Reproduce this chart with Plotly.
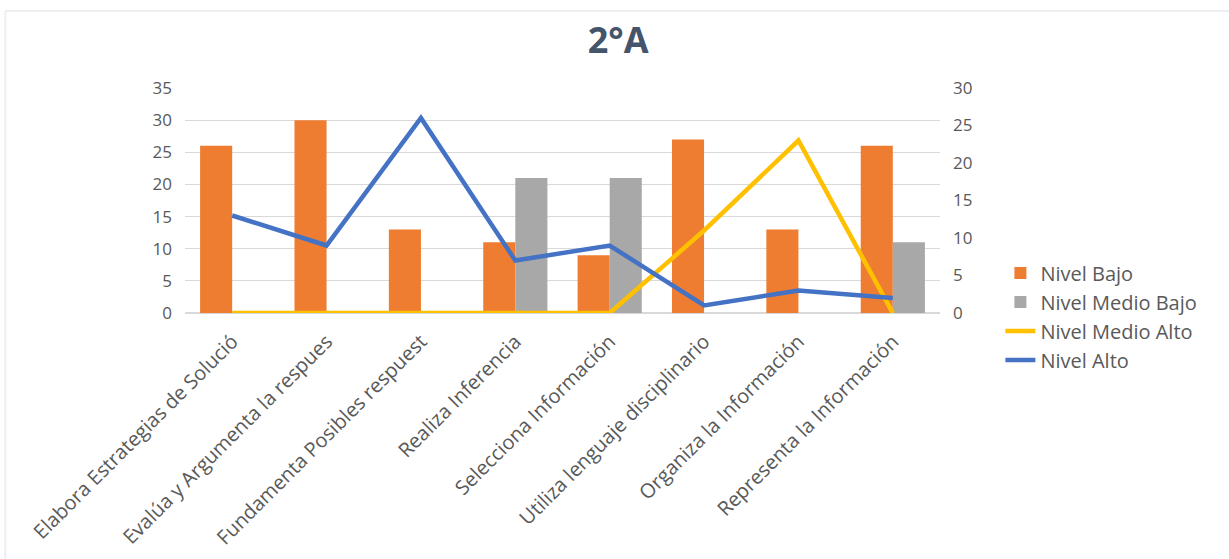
import plotly.graph_objects as go

categories = [
    "Elabora Estrategias de Solució",
    "Evalúa y Argumenta la respues",
    "Fundamenta Posibles respuest",
    "Realiza Inferencia",
    "Selecciona Información",
    "Utiliza lenguaje disciplinario",
    "Organiza la Información",
    "Representa la Información",
]
nivel_bajo = [26, 30, 13, 11, 9, 27, 13, 26]
nivel_medio_bajo = [0, 0, 0, 21, 21, 0, 0, 11]
nivel_medio_alto = [0, 0, 0, 0, 0, 11, 23, 0]
nivel_alto = [13, 9, 26, 7, 9, 1, 3, 2]

font_family = "Open Sans, Liberation Sans, sans-serif"
tick_color = "#595959"

fig = go.Figure()
fig.add_trace(go.Bar(x=categories, y=nivel_bajo, name="Nivel Bajo",
                     marker=dict(color="#EE7D31", line=dict(width=0))))
fig.add_trace(go.Bar(x=categories, y=nivel_medio_bajo, name="Nivel Medio Bajo",
                     marker=dict(color="#A8A8A8", line=dict(width=0))))
fig.add_trace(go.Scatter(x=categories, y=nivel_medio_alto, name="Nivel Medio Alto",
                         mode="lines", line=dict(color="#FFC000", width=4.5), yaxis="y2"))
fig.add_trace(go.Scatter(x=categories, y=nivel_alto, name="Nivel Alto",
                         mode="lines", line=dict(color="#4472C4", width=4.5), yaxis="y2"))

fig.update_layout(
    width=1229, height=559,
    paper_bgcolor="white", plot_bgcolor="white",
    margin=dict(l=185, r=289, t=88, b=246),
    barmode="group", bargap=0.32, bargroupgap=0,
    font=dict(family=font_family, color=tick_color, size=16),
    title=dict(text="<b>2°A</b>", x=0.503, xanchor="center", y=0.928, yanchor="middle",
               font=dict(size=36, color="#44546A", family=font_family)),
    xaxis=dict(tickangle=-45, showgrid=False, showline=False, ticks="", automargin=False,
               tickfont=dict(size=20, color=tick_color), ticklabelstandoff=12),
    yaxis=dict(range=[0, 35], dtick=5, showgrid=True, gridcolor="#D9D9D9", gridwidth=1,
               zeroline=True, zerolinecolor="#D9D9D9", showline=False, ticks="",
               automargin=False,
               tickfont=dict(size=17, color=tick_color), ticklabelstandoff=12),
    yaxis2=dict(range=[0, 30], dtick=5, overlaying="y", side="right", showgrid=False,
                zeroline=False, showline=False, ticks="", automargin=False,
                tickfont=dict(size=17, color=tick_color), ticklabelstandoff=12),
    legend=dict(x=1.08, y=-0.015, xanchor="left", yanchor="middle",
                font=dict(size=20, color=tick_color), traceorder="normal",
                itemwidth=30, tracegroupgap=0, bgcolor="rgba(0,0,0,0)"),
    shapes=[
        dict(type="line", xref="paper", yref="paper", x0=-0.238, x1=1.383, y0=1.342, y1=1.342,
             line=dict(color="#EEEEF2", width=2)),
        dict(type="line", xref="paper", yref="paper", x0=-0.238, x1=-0.238, y0=1.342, y1=-1.2,
             line=dict(color="#EEEEF2", width=2)),
    ],
)

fig.write_html("out.html")
